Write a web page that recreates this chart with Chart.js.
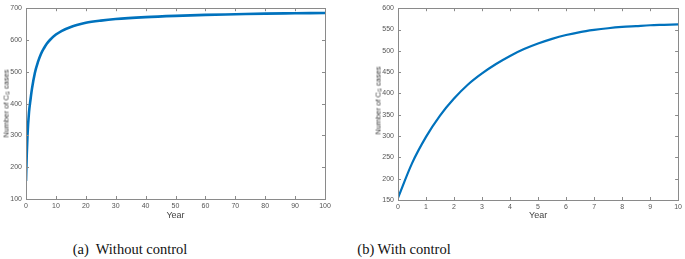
<!DOCTYPE html>
<html>
<head>
<meta charset="utf-8">
<script src="https://cdn.jsdelivr.net/npm/chart.js@4/dist/chart.umd.min.js"></script>
<style>
  html, body { margin: 0; padding: 0; background: #fff; width: 685px; height: 259px; overflow: hidden; }
  canvas { position: absolute; top: 0; }
  .ytitle { position: absolute; font-family: "Liberation Sans", Arial, sans-serif; font-size: 7.5px; color: #333;
            white-space: nowrap; transform-origin: center center; }
  .ytitle sub { font-size: 5px; vertical-align: -1px; }
  .caption { position: absolute; font-family: "Liberation Serif", "Times New Roman", serif; font-size: 14.5px; color: #111;
             white-space: nowrap; transform: translate(-50%, -50%); }
</style>
</head>
<body>
<canvas id="left" width="340" height="225" style="left:0px"></canvas>
<canvas id="right" width="340" height="225" style="left:345px"></canvas>
<div class="ytitle" id="ytl">Number of C<sub>G</sub> cases</div>
<div class="ytitle" id="ytr">Number of C<sub>G</sub> cases</div>
<div class="caption" style="left:130px; top:249px;">(a)&nbsp; Without control</div>
<div class="caption" style="left:404px; top:249px;">(b) With control</div>
<script>
// ---- Data ----
const leftYears  = [0, 0.25, 0.5, 1, 1.5, 2, 3, 4, 5, 6, 7, 8, 10, 12, 15, 17, 20, 25, 30, 40, 50, 60, 70, 80, 90, 100];
const leftCases  = [157, 240, 300, 372, 412, 447, 498, 531, 556, 574, 589, 600, 617, 629, 641, 647, 654, 661, 666, 672, 676, 679, 681, 683, 684, 685];
const rightYears = [0, 0.5, 1, 1.5, 2, 2.5, 3, 3.5, 4, 4.5, 5, 5.5, 6, 6.5, 7, 7.5, 8, 8.5, 9, 9.5, 10];
const rightCases = [155, 236, 298, 348, 388, 421, 447, 469, 488, 504, 517, 528, 537, 544, 549, 553, 556, 558, 560, 561, 562];

const leftXTicks  = [0, 10, 20, 30, 40, 50, 60, 70, 80, 90, 100];
const leftYTicks  = [100, 200, 300, 400, 500, 600, 700];
const rightXTicks = [0, 1, 2, 3, 4, 5, 6, 7, 8, 9, 10];
const rightYTicks = [150, 200, 250, 300, 350, 400, 450, 500, 550, 600];

const xTitle = 'Year';

// ---- Styling ----
const LINE = '#0072BD';
const AXIS = '#8a8a8a';
const TICKTXT = '#555';

const boxPlugin = {
  id: 'matlabBox',
  afterDraw(chart) {
    const { ctx, chartArea: a, scales } = chart;
    ctx.save();
    ctx.strokeStyle = AXIS;
    ctx.lineWidth = 1;
    ctx.strokeRect(Math.round(a.left) + 0.5, Math.round(a.top) + 0.5,
                   Math.round(a.right - a.left), Math.round(a.bottom - a.top));
    const L = 3;
    ctx.beginPath();
    scales.x.ticks.forEach(t => {
      const x = Math.round(scales.x.getPixelForValue(t.value)) + 0.5;
      ctx.moveTo(x, a.bottom); ctx.lineTo(x, a.bottom - L);
      ctx.moveTo(x, a.top); ctx.lineTo(x, a.top + L);
    });
    scales.y.ticks.forEach(t => {
      const y = Math.round(scales.y.getPixelForValue(t.value)) + 0.5;
      ctx.moveTo(a.left, y); ctx.lineTo(a.left + L, y);
      ctx.moveTo(a.right, y); ctx.lineTo(a.right - L, y);
    });
    ctx.stroke();
    ctx.restore();
  }
};

function makeChart(id, xs, ys, xTicks, yTicks, yWidth, xHeight, pad, lw) {
  const pts = xs.map((x, i) => ({ x, y: ys[i] }));
  return new Chart(document.getElementById(id), {
    type: 'scatter',
    data: { datasets: [{
      data: pts, showLine: true, borderColor: LINE, borderWidth: lw,
      pointRadius: 0, cubicInterpolationMode: 'monotone', fill: false
    }]},
    options: {
      responsive: false, animation: false,
      layout: { padding: pad },
      plugins: { legend: { display: false }, tooltip: { enabled: false } },
      scales: {
        x: {
          type: 'linear', min: xTicks[0], max: xTicks[xTicks.length - 1],
          afterBuildTicks: s => { s.ticks = xTicks.map(v => ({ value: v })); },
          afterFit: s => { s.height = xHeight; },
          grid: { display: false, drawTicks: false }, border: { display: false },
          ticks: { color: TICKTXT, font: { family: 'Liberation Sans', size: 7 }, padding: 3, maxRotation: 0, autoSkip: false },
          title: { display: true, text: xTitle, color: '#444', font: { family: 'Liberation Sans', size: 9 }, padding: { top: 0, bottom: 4 } }
        },
        y: {
          type: 'linear', min: yTicks[0], max: yTicks[yTicks.length - 1],
          afterBuildTicks: s => { s.ticks = yTicks.map(v => ({ value: v })); },
          afterFit: s => { s.width = yWidth; },
          grid: { display: false, drawTicks: false }, border: { display: false },
          ticks: { color: TICKTXT, font: { family: 'Liberation Sans', size: 7 }, padding: 4, autoSkip: false }
        }
      }
    },
    plugins: [boxPlugin]
  });
}

makeChart('left', leftYears, leftCases, leftXTicks, leftYTicks, 26, 26, { top: 3, right: 15, left: 0, bottom: 0 }, 2.6);
makeChart('right', rightYears, rightCases, rightXTicks, rightYTicks, 53, 25, { top: 2, right: 5, left: 0, bottom: 0 }, 2.2);

function placeTitle(id, cx, cy) {
  const el = document.getElementById(id);
  const w = el.offsetWidth, h = el.offsetHeight;
  el.style.left = (cx - w / 2) + 'px';
  el.style.top = (cy - h / 2) + 'px';
  el.style.transform = 'rotate(-90deg)';
}
placeTitle('ytl', 6, 103);
placeTitle('ytr', 378, 100);
</script>
</body>
</html>
